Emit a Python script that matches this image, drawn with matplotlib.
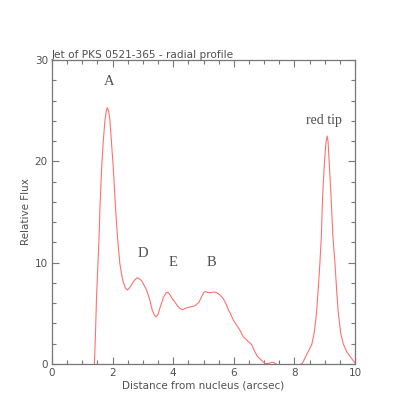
import matplotlib
matplotlib.use("Agg")
import matplotlib.pyplot as plt
from matplotlib.ticker import MultipleLocator

# Radial profile
distance = [1.38, 1.40, 1.44, 1.47, 1.51, 1.55, 1.58, 1.64, 1.70, 1.75, 1.80, 1.83,
            1.87, 1.91, 1.96, 2.02, 2.10, 2.17, 2.24, 2.33, 2.42, 2.49, 2.58, 2.70,
            2.80, 2.87, 2.96, 3.05, 3.12, 3.22, 3.31, 3.38, 3.43, 3.50, 3.58, 3.68,
            3.76, 3.82, 3.90, 3.98, 4.06, 4.15, 4.22, 4.31, 4.40, 4.50, 4.60, 4.72,
            4.80, 4.86, 4.93, 5.00, 5.05, 5.15, 5.25, 5.35, 5.43, 5.55, 5.65, 5.75,
            5.82, 5.90, 5.98, 6.10, 6.20, 6.31, 6.45, 6.59, 6.68, 6.78, 6.90, 7.03,
            7.15, 7.25, 7.32, 7.41, 7.60, 8.00, 8.26, 8.40, 8.57, 8.65, 8.73, 8.80,
            8.84, 8.89, 8.93, 8.99, 9.04, 9.08, 9.11, 9.15, 9.21, 9.27, 9.34, 9.40,
            9.45, 9.53, 9.61, 9.73, 9.85, 10.0]
flux = [-0.5, 0.0, 3.5, 6.6, 9.5, 12.2, 15.2, 19.5, 22.3, 24.1, 25.1, 25.3,
        24.9, 24.1, 22.0, 19.5, 15.2, 12.2, 9.9, 8.3, 7.5, 7.3, 7.6, 8.2,
        8.5, 8.45, 8.2, 7.7, 7.3, 6.4, 5.3, 4.8, 4.65, 4.9, 5.7, 6.6,
        7.0, 7.1, 6.8, 6.4, 6.1, 5.7, 5.5, 5.35, 5.5, 5.6, 5.65, 5.75,
        5.95, 6.15, 6.6, 7.0, 7.15, 7.05, 7.05, 7.1, 7.05, 6.8, 6.45, 5.9,
        5.35, 4.9, 4.35, 3.8, 3.35, 2.7, 2.3, 1.9, 1.3, 0.75, 0.4, 0.05,
        0.05, 0.17, 0.15, -0.02, -0.3, -0.3, 0.05, 0.9, 1.9, 3.0, 5.0, 8.0,
        9.9, 12.6, 16.5, 19.8, 21.8, 22.5, 22.0, 19.8, 16.5, 12.6, 9.9, 7.0,
        5.0, 3.0, 2.0, 1.2, 0.7, 0.1]

# Feature labels
feature_names = ["A", "D", "E", "B", "red tip"]
feature_x = [1.88, 3.0, 4.0, 5.28, 8.98]
feature_y = [27.9, 10.9, 10.0, 10.0, 24.0]

title = "Jet of PKS 0521-365 - radial profile"
xlabel = "Distance from nucleus (arcsec)"
ylabel = "Relative Flux"

text_col = "#505050"
axis_col = "#777777"

fig = plt.figure(figsize=(4.15, 4.15), dpi=100)
ax = fig.add_axes([52/415, 1 - 364/415, (355-52)/415, (364-60)/415])

ax.plot(distance, flux, color="#ff7070", lw=0.8)

ax.set_xlim(0, 10)
ax.set_ylim(0, 30)
ax.xaxis.set_major_locator(MultipleLocator(2))
ax.xaxis.set_minor_locator(MultipleLocator(0.5))
ax.yaxis.set_major_locator(MultipleLocator(10))
ax.yaxis.set_minor_locator(MultipleLocator(2))
ax.tick_params(which="both", direction="in", top=True, right=True,
               color=axis_col, width=0.8, labelcolor=text_col, labelsize=7.5)
ax.tick_params(which="major", length=5, pad=3)
ax.tick_params(which="minor", length=3)
for s in ax.spines.values():
    s.set_color(axis_col)
    s.set_linewidth(0.9)

ax.set_xlabel(xlabel, fontsize=7.5, color=text_col, labelpad=2)
ax.set_ylabel(ylabel, fontsize=7.5, color=text_col, labelpad=3)
ax.set_title(title, fontsize=7.6, color=text_col, loc="left", pad=1)

for name, fx, fy in zip(feature_names, feature_x, feature_y):
    size = 10.5 if len(name) == 1 else 10
    ax.text(fx, fy, name, ha="center", va="center", fontsize=size,
            family="Liberation Serif", color=text_col)

fig.savefig("out.png", dpi=100)
